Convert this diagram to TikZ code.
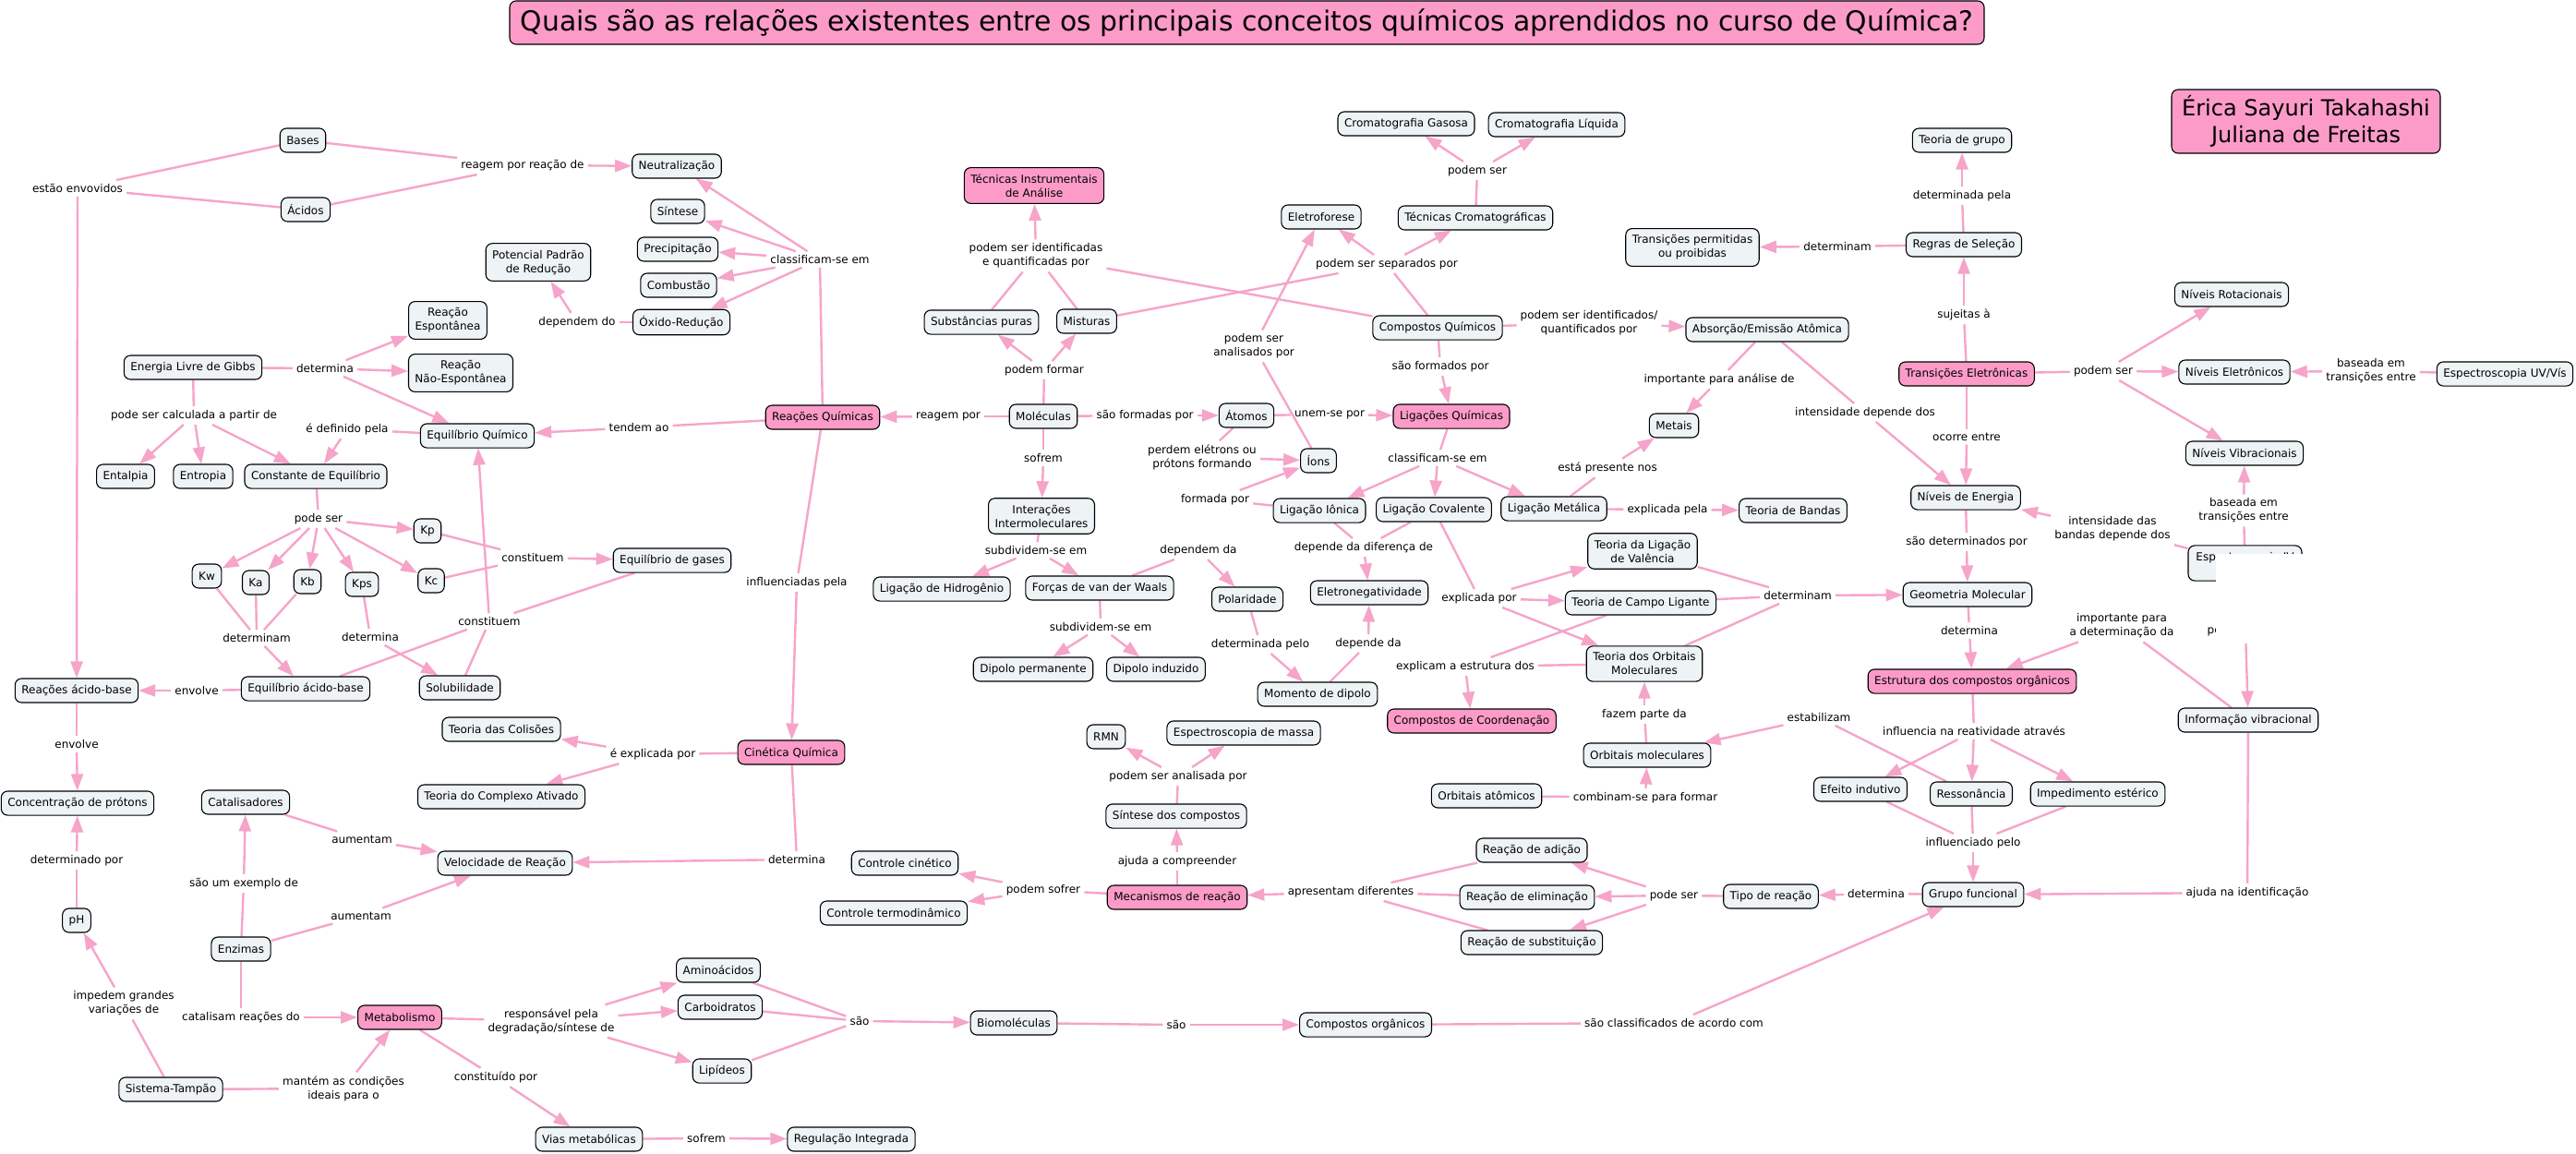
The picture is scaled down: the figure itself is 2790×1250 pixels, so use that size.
\documentclass[tikz,border=0pt]{standalone}
\usepackage{fontspec}
\setmainfont{DejaVu Sans}
\usetikzlibrary{arrows.meta,backgrounds}
\definecolor{cfill}{RGB}{238,243,245}
\definecolor{pfill}{RGB}{252,155,200}
\definecolor{lpink}{RGB}{246,164,202}
\tikzset{
 cpt/.style={draw=black, line width=1.1pt, rounded corners=7pt, fill=cfill, inner xsep=7pt, inner ysep=7pt, minimum height=26pt, align=center, font=\fontsize{12pt}{15pt}\selectfont},
 pk/.style={cpt, fill=pfill},
 lbl/.style={inner xsep=4pt, inner ysep=4pt, align=center, font=\fontsize{12pt}{15pt}\selectfont},
 ln/.style={draw=lpink, line width=2.4pt},
 ar/.style={ln, -{Triangle[length=18pt,width=13pt]}},
}
\begin{document}
\begin{tikzpicture}[x=1pt,y=-1pt]
\useasboundingbox (0,0) rectangle (2790,1250);
% ---------- title and authors
\node[pk, font=\fontsize{29.8pt}{32pt}\selectfont, minimum width=1597pt, minimum height=47pt, inner ysep=2pt, inner xsep=4pt] (title) at (1350.5,24.5) {Quais são as relações existentes entre os principais conceitos químicos aprendidos no curso de Química?};
\node[pk, font=\fontsize{24pt}{29pt}\selectfont, minimum width=291pt, minimum height=69pt, inner ysep=4pt] (autores) at (2497.5,131.5) {Érica Sayuri Takahashi\\Juliana de Freitas};
% ---------- concepts
\node[cpt] (bases) at (328,152) {Bases};
\node[cpt] (acidos) at (331,227) {Ácidos};
\node[cpt] (neutr) at (733,180) {Neutralização};
\node[cpt] (sintese) at (734,229) {Síntese};
\node[cpt] (precip) at (734,270) {Precipitação};
\node[cpt] (combust) at (735,309) {Combustão};
\node[cpt] (oxired) at (738,349) {Óxido-Redução};
\node[cpt] (potencial) at (583,284) {Potencial Padrão\\de Redução};
\node[cpt] (reacesp) at (485,347) {Reação\\Espontânea};
\node[cpt] (reacnesp) at (499,404) {Reação\\Não-Espontânea};
\node[cpt] (gibbs) at (209,398) {Energia Livre de Gibbs};
\node[cpt] (eqquim) at (517,472) {Equilíbrio Químico};
\node[cpt] (entalpia) at (136,516) {Entalpia};
\node[cpt] (entropia) at (220,516) {Entropia};
\node[cpt] (consteq) at (342,516) {Constante de Equilíbrio};
\node[cpt] (kp) at (463,575) {Kp};
\node[cpt] (kw) at (224,624) {Kw};
\node[cpt] (ka) at (277,631) {Ka};
\node[cpt] (kb) at (333,630) {Kb};
\node[cpt] (kps) at (392,633) {Kps};
\node[cpt] (kc) at (467,629) {Kc};
\node[cpt] (eqgases) at (728,607) {Equilíbrio de gases};
\node[cpt] (reacab) at (83,748) {Reações ácido-base};
\node[cpt] (eqab) at (331,746) {Equilíbrio ácido-base};
\node[cpt] (solub) at (498,745) {Solubilidade};
\node[cpt] (tcolis) at (543,790) {Teoria das Colisões};
\node[cpt] (tcomplexo) at (543,863) {Teoria do Complexo Ativado};
\node[cpt] (concprot) at (84,870) {Concentração de prótons};
\node[cpt] (catalis) at (266,869) {Catalisadores};
\node[cpt] (velreac) at (547,935) {Velocidade de Reação};
\node[cpt] (ph) at (83,997) {pH};
\node[cpt] (enzimas) at (261,1028) {Enzimas};
\node[pk] (metab) at (433,1102) {Metabolismo};
\node[cpt] (tampao) at (185,1180) {Sistema-Tampão};
\node[cpt] (vias) at (638,1234) {Vias metabólicas};
\node[cpt] (regint) at (922,1234) {Regulação Integrada};
\node[cpt] (aminoac) at (778,1051) {Aminoácidos};
\node[cpt] (carboid) at (780,1091) {Carboidratos};
\node[cpt] (lipid) at (782,1160) {Lipídeos};
\node[cpt] (biomol) at (1098,1108) {Biomoléculas};
\node[cpt] (comporg) at (1479,1110) {Compostos orgânicos};
\node[pk] (reacquim) at (891,452) {Reações Químicas};
\node[pk] (cinetica) at (857,815) {Cinética Química};
\node[cpt] (ctrlcin) at (980,935) {Controle cinético};
\node[cpt] (ctrlterm) at (968,989) {Controle termodinâmico};
\node[pk] (mecan) at (1275,972) {Mecanismos de reação};
\node[cpt] (sintcomp) at (1274,884) {Síntese dos compostos};
\node[cpt] (rmn) at (1198,798) {RMN};
\node[cpt] (espmassa) at (1347,794) {Espectroscopia de massa};
\node[pk] (tecinstr) at (1120,201) {Técnicas Instrumentais\\de Análise};
\node[cpt] (subst) at (1063,349) {Substâncias puras};
\node[cpt] (mist) at (1177,348) {Misturas};
\node[cpt] (molec) at (1130,451) {Moléculas};
\node[cpt] (atomos) at (1350,450) {Átomos};
\node[cpt] (ions) at (1428,499) {Íons};
\node[cpt] (interint) at (1128,559) {Interações\\Intermoleculares};
\node[cpt] (ligH) at (1020,638) {Ligação de Hidrogênio};
\node[cpt] (vdw) at (1191,637) {Forças de van der Waals};
\node[cpt] (polar) at (1351,649) {Polaridade};
\node[cpt] (dipperm) at (1119,725) {Dipolo permanente};
\node[cpt] (dipind) at (1252,725) {Dipolo induzido};
\node[cpt] (momdip) at (1427,752) {Momento de dipolo};
\node[cpt] (eletroneg) at (1483,642) {Eletronegatividade};
\node[cpt] (cromag) at (1523,134) {Cromatografia Gasosa};
\node[cpt] (cromal) at (1686,135) {Cromatografia Líquida};
\node[cpt] (eletrof) at (1431,235) {Eletroforese};
\node[cpt] (teccrom) at (1598,236) {Técnicas Cromatográficas};
\node[cpt] (compquim) at (1557,355) {Compostos Químicos};
\node[pk] (ligquim) at (1572,451) {Ligações Químicas};
\node[cpt] (ligion) at (1429,553) {Ligação Iônica};
\node[cpt] (ligcov) at (1553,552) {Ligação Covalente};
\node[cpt] (ligmet) at (1683,551) {Ligação Metálica};
\node[cpt] (tbandas) at (1942,553) {Teoria de Bandas};
\node[cpt] (metais) at (1813,461) {Metais};
\node[cpt] (absem) at (1914,357) {Absorção/Emissão Atômica};
\node[cpt] (tlv) at (1779,597) {Teoria da Ligação\\de Valência};
\node[cpt] (tcl) at (1777,653) {Teoria de Campo Ligante};
\node[cpt] (tom) at (1781,719) {Teoria dos Orbitais\\Moleculares};
\node[pk] (compcoord) at (1594,781) {Compostos de Coordenação};
\node[cpt] (orbmol) at (1784,818) {Orbitais moleculares};
\node[cpt] (orbat) at (1610,862) {Orbitais atômicos};
\node[cpt] (radic) at (1659,921) {Reação de adição};
\node[cpt] (relim) at (1654,972) {Reação de eliminação};
\node[cpt] (rsubst) at (1659,1021) {Reação de substituição};
\node[cpt] (tiporeac) at (1918,971) {Tipo de reação};
\node[cpt] (grupofunc) at (2137,969) {Grupo funcional};
\node[cpt] (efind) at (2015,855) {Efeito indutivo};
\node[cpt] (resson) at (2135,860) {Ressonância};
\node[cpt] (impest) at (2272,860) {Impedimento estérico};
\node[pk] (estrut) at (2136,738) {Estrutura dos compostos orgânicos};
\node[cpt] (geomol) at (2131,644) {Geometria Molecular};
\node[cpt] (nivener) at (2129,539) {Níveis de Energia};
\node[pk] (transel) at (2130,405) {Transições Eletrônicas};
\node[cpt] (regsel) at (2127,265) {Regras de Seleção};
\node[cpt] (tgrupo) at (2125,152) {Teoria de grupo};
\node[cpt] (transperm) at (1833,268) {Transições permitidas\\ou proibidas};
\node[cpt] (nivrot) at (2417,319) {Níveis Rotacionais};
\node[cpt] (niveletr) at (2420,403) {Níveis Eletrônicos};
\node[cpt] (nivvib) at (2431,491) {Níveis Vibracionais};
\node[cpt] (espuv) at (2713,405) {Espectroscopia UV/Vís};
\node[cpt, minimum width=123pt, minimum height=38pt] (espiv) at (2431.5,610) {Espectroscopia IV\\\phantom{I}};
\node[cpt] (infovib) at (2435,780) {Informação vibracional};
% ---------- linking phrases
\node[lbl] (Lestao) at (84,204) {estão envovidos};
\node[lbl] (Lreagemreac) at (566,179) {reagem por reação de};
\node[lbl] (Lclassif1) at (888,281) {classificam-se em};
\node[lbl] (Ldependemdo) at (625,349) {dependem do};
\node[lbl] (Ldetermina1) at (352,399) {determina};
\node[lbl] (Lcalc) at (210,450) {pode ser calculada a partir de};
\node[lbl] (Ldefinido) at (376,465) {é definido pela};
\node[lbl] (Ltendem) at (692,463) {tendem ao};
\node[lbl] (Lpodeser1) at (345,562) {pode ser};
\node[lbl] (Lconstituem1) at (577,604) {constituem};
\node[lbl] (Ldeterminam1) at (278,691) {determinam};
\node[lbl] (Ldetermina2) at (401,690) {determina};
\node[lbl] (Lconstituem2) at (530,673) {constituem};
\node[lbl] (Lenvolve1) at (213,748) {envolve};
\node[lbl] (Lenvolve2) at (83,806) {envolve};
\node[lbl] (Lexplicada) at (707,817) {é explicada por};
\node[lbl] (Linfluenc) at (863,631) {influenciadas pela};
\node[lbl] (Ldetpor) at (83,932) {determinado por};
\node[lbl] (Lexemplo) at (264,957) {são um exemplo de};
\node[lbl] (Laumentam1) at (392,909) {aumentam};
\node[lbl] (Laumentam2) at (391,992) {aumentam};
\node[lbl] (Limpedem) at (134,1087) {impedem grandes\\variações de};
\node[lbl] (Lcatalisam) at (261,1102) {catalisam reações do};
\node[lbl] (Lrespons) at (597,1106) {responsável pela\\degradação/síntese de};
\node[lbl] (Lmantem) at (372,1179) {mantém as condições\\ideais para o};
\node[lbl] (Lconstit) at (537,1167) {constituído por};
\node[lbl] (Lsofrem2) at (765,1233) {sofrem};
\node[lbl] (Lsao1) at (931,1106) {são};
\node[lbl] (Lsao2) at (1274,1110) {são};
\node[lbl] (Lclassif3) at (1813,1108) {são classificados de acordo com};
\node[lbl] (Ldetermina4) at (863,931) {determina};
\node[lbl] (Lpodemsofrer) at (1130,964) {podem sofrer};
\node[lbl] (Lajuda) at (1275,933) {ajuda a compreender};
\node[lbl] (Lanalisada) at (1276,841) {podem ser analisada por};
\node[lbl] (Lapresentam) at (1463,966) {apresentam diferentes};
\node[lbl] (Lpodeser3) at (1813,970) {pode ser};
\node[lbl] (Ldetermina5) at (2032,968) {determina};
\node[lbl] (Lreagempor) at (1027,451) {reagem por};
\node[lbl] (Lformadas) at (1240,450) {são formadas por};
\node[lbl] (Lsofrem) at (1130,496) {sofrem};
\node[lbl] (Lpodemformar) at (1131,401) {podem formar};
\node[lbl] (Lidentif) at (1122,277) {podem ser identificadas\\e quantificadas por};
\node[lbl] (Lseparados) at (1502,286) {podem ser separados por};
\node[lbl] (Lpodeser2) at (1600,185) {podem ser};
\node[lbl] (Lanalisados) at (1358,375) {podem ser\\analisados por};
\node[lbl] (Lidentif2) at (1721,350) {podem ser identificados/\\quantificados por};
\node[lbl] (Lformados) at (1560,397) {são formados por};
\node[lbl] (Limportante) at (1862,411) {importante para análise de};
\node[lbl] (Lintens) at (2020,447) {intensidade depende dos};
\node[lbl] (Lunem) at (1440,449) {unem-se por};
\node[lbl] (Lperdem) at (1302,495) {perdem elétrons ou\\prótons formando};
\node[lbl] (Lformada) at (1316,541) {formada por};
\node[lbl] (Lsubdiv1) at (1122,596) {subdividem-se em};
\node[lbl] (Ldependemda) at (1298,596) {dependem da};
\node[lbl] (Lsubdiv2) at (1192,679) {subdividem-se em};
\node[lbl] (Ldetpelo) at (1365,698) {determinada pelo};
\node[lbl] (Ldependeda) at (1482,697) {depende da};
\node[lbl] (Lclassif2) at (1557,496) {classificam-se em};
\node[lbl] (Lpresente) at (1741,507) {está presente nos};
\node[lbl] (Lexplpela) at (1806,552) {explicada pela};
\node[lbl] (Ldifer) at (1477,593) {depende da diferença de};
\node[lbl] (Lexplpor) at (1602,648) {explicada por};
\node[lbl] (Ldeterminam2) at (1947,645) {determinam};
\node[lbl] (Lexplicam) at (1587,722) {explicam a estrutura dos};
\node[lbl] (Lfazem) at (1781,774) {fazem parte da};
\node[lbl] (Lestab) at (1970,777) {estabilizam};
\node[lbl] (Lcombinam) at (1782,864) {combinam-se para formar};
\node[lbl] (Linfluencia) at (2138,792) {influencia na reatividade através};
\node[lbl] (Linfluenciado) at (2137,913) {influenciado pelo};
\node[lbl] (Lajudaid) at (2434,967) {ajuda na identificação};
\node[lbl] (Ldetermina6) at (2133,683) {determina};
\node[lbl] (Limpdet) at (2298,678) {importante para\\a determinação da};
\node[lbl] (Lperm) at (2432,683) {permite obter};
\node[lbl] (Lsaodet) at (2130,587) {são determinados por};
\node[lbl] (Lintbandas) at (2288,573) {intensidade das\\bandas depende dos};
\node[lbl] (Lbaseada2) at (2430,553) {baseada em\\transições entre};
\node[lbl] (Locorre) at (2130,473) {ocorre entre};
\node[lbl] (Lsujeitas) at (2127,341) {sujeitas à};
\node[lbl] (Ldetpela) at (2125,212) {determinada pela};
\node[lbl] (Ldeterminam3) at (1990,267) {determinam};
\node[lbl] (Lpodeser4) at (2278,402) {podem ser};
\node[lbl] (Lbaseada1) at (2568,402) {baseada em\\transições entre};
% ---------- connectors
\begin{scope}[on background layer]
\fill[white] (0,0) rectangle (2790,1250);
\draw[ln] (bases) -- (Lestao);
\draw[ln] (acidos) -- (Lestao);
\draw[ar] (Lestao) -- (reacab);
\draw[ln] (bases) -- (Lreagemreac);
\draw[ln] (acidos) -- (Lreagemreac);
\draw[ar] (Lreagemreac) -- (neutr);
\draw[ln] (reacquim) -- (Lclassif1);
\foreach \t in {neutr,sintese,precip,combust,oxired} \draw[ar] (Lclassif1) -- (\t);
\draw[ln] (oxired) -- (Ldependemdo);
\draw[ar] (Ldependemdo) -- (potencial);
\draw[ln] (gibbs) -- (Ldetermina1);
\foreach \t in {reacesp,reacnesp,eqquim} \draw[ar] (Ldetermina1) -- (\t);
\draw[ln] (gibbs) -- (Lcalc);
\foreach \t in {entalpia,entropia,consteq} \draw[ar] (Lcalc) -- (\t);
\draw[ln] (eqquim) -- (Ldefinido);
\draw[ar] (Ldefinido) -- (consteq);
\draw[ln] (reacquim) -- (Ltendem);
\draw[ar] (Ltendem) -- (eqquim);
\draw[ln] (consteq) -- (Lpodeser1);
\foreach \t in {kp,kw,ka,kb,kps,kc} \draw[ar] (Lpodeser1) -- (\t);
\draw[ln] (kp) -- (Lconstituem1);
\draw[ln] (kc) -- (Lconstituem1);
\draw[ar] (Lconstituem1) -- (eqgases);
\foreach \t in {kw,ka,kb} \draw[ln] (\t) -- (Ldeterminam1);
\draw[ar] (Ldeterminam1) -- (eqab);
\draw[ln] (kps) -- (Ldetermina2);
\draw[ar] (Ldetermina2) -- (solub);
\foreach \t in {eqgases,eqab,solub} \draw[ln] (\t) -- (Lconstituem2);
\draw[ar] (Lconstituem2) -- (eqquim);
\draw[ln] (eqab) -- (Lenvolve1);
\draw[ar] (Lenvolve1) -- (reacab);
\draw[ln] (reacab) -- (Lenvolve2);
\draw[ar] (Lenvolve2) -- (concprot);
\draw[ln] (ph) -- (Ldetpor);
\draw[ar] (Ldetpor) -- (concprot);
\draw[ln] (tampao) -- (Limpedem);
\draw[ar] (Limpedem) -- (ph);
\draw[ln] (tampao) -- (Lmantem);
\draw[ar] (Lmantem) -- (metab);
\draw[ln] (enzimas) -- (Lexemplo);
\draw[ar] (Lexemplo) -- (catalis);
\draw[ln] (catalis) -- (Laumentam1);
\draw[ar] (Laumentam1) -- (velreac);
\draw[ln] (enzimas) -- (Laumentam2);
\draw[ar] (Laumentam2) -- (velreac);
\draw[ln] (enzimas) -- (Lcatalisam);
\draw[ar] (Lcatalisam) -- (metab);
\draw[ln] (metab) -- (Lrespons);
\foreach \t in {aminoac,carboid,lipid} \draw[ar] (Lrespons) -- (\t);
\draw[ln] (metab) -- (Lconstit);
\draw[ar] (Lconstit) -- (vias);
\draw[ln] (vias) -- (Lsofrem2);
\draw[ar] (Lsofrem2) -- (regint);
\foreach \t in {aminoac,carboid,lipid} \draw[ln] (\t) -- (Lsao1);
\draw[ar] (Lsao1) -- (biomol);
\draw[ln] (biomol) -- (Lsao2);
\draw[ar] (Lsao2) -- (comporg);
\draw[ln] (comporg) -- (Lclassif3);
\draw[ar] (Lclassif3) -- (grupofunc);
\draw[ln] (grupofunc) -- (Ldetermina5);
\draw[ar] (Ldetermina5) -- (tiporeac);
\draw[ln] (tiporeac) -- (Lpodeser3);
\foreach \t in {radic,relim,rsubst} \draw[ar] (Lpodeser3) -- (\t);
\foreach \t in {radic,relim,rsubst} \draw[ln] (\t) -- (Lapresentam);
\draw[ar] (Lapresentam) -- (mecan);
\draw[ln] (mecan) -- (Lpodemsofrer);
\foreach \t in {ctrlcin,ctrlterm} \draw[ar] (Lpodemsofrer) -- (\t);
\draw[ln] (mecan) -- (Lajuda);
\draw[ar] (Lajuda) -- (sintcomp);
\draw[ln] (sintcomp) -- (Lanalisada);
\foreach \t in {rmn,espmassa} \draw[ar] (Lanalisada) -- (\t);
\draw[ln] (reacquim) -- (Linfluenc);
\draw[ar] (Linfluenc) -- (cinetica);
\draw[ln] (cinetica) -- (Lexplicada);
\foreach \t in {tcolis,tcomplexo} \draw[ar] (Lexplicada) -- (\t);
\draw[ln] (cinetica) -- (Ldetermina4);
\draw[ar] (Ldetermina4) -- (velreac);
\draw[ln] (molec) -- (Lreagempor);
\draw[ar] (Lreagempor) -- (reacquim);
\draw[ln] (molec) -- (Lpodemformar);
\foreach \t in {subst,mist} \draw[ar] (Lpodemformar) -- (\t);
\foreach \t in {subst,mist,compquim} \draw[ln] (\t) -- (Lidentif);
\draw[ar] (Lidentif) -- (tecinstr);
\foreach \t in {mist,compquim} \draw[ln] (\t) -- (Lseparados);
\foreach \t in {eletrof,teccrom} \draw[ar] (Lseparados) -- (\t);
\draw[ln] (teccrom) -- (Lpodeser2);
\foreach \t in {cromag,cromal} \draw[ar] (Lpodeser2) -- (\t);
\draw[ln] (compquim) -- (Lidentif2);
\draw[ar] (Lidentif2) -- (absem);
\draw[ln] (absem) -- (Limportante);
\draw[ar] (Limportante) -- (metais);
\draw[ln] (absem) -- (Lintens);
\draw[ar] (Lintens) -- (nivener);
\draw[ln] (compquim) -- (Lformados);
\draw[ar] (Lformados) -- (ligquim);
\draw[ln] (molec) -- (Lformadas);
\draw[ar] (Lformadas) -- (atomos);
\draw[ln] (molec) -- (Lsofrem);
\draw[ar] (Lsofrem) -- (interint);
\draw[ln] (atomos) -- (Lunem);
\draw[ar] (Lunem) -- (ligquim);
\draw[ln] (atomos) -- (Lperdem);
\draw[ar] (Lperdem) -- (ions);
\draw[ln] (ligion) -- (Lformada);
\draw[ar] (Lformada) -- (ions);
\draw[ln] (ions) -- (Lanalisados);
\draw[ar] (Lanalisados) -- (eletrof);
\draw[ln] (ligquim) -- (Lclassif2);
\foreach \t in {ligion,ligcov,ligmet} \draw[ar] (Lclassif2) -- (\t);
\draw[ln] (ligmet) -- (Lpresente);
\draw[ar] (Lpresente) -- (metais);
\draw[ln] (ligmet) -- (Lexplpela);
\draw[ar] (Lexplpela) -- (tbandas);
\foreach \t in {ligion,ligcov} \draw[ln] (\t) -- (Ldifer);
\draw[ar] (Ldifer) -- (eletroneg);
\draw[ln] (ligcov) -- (Lexplpor);
\foreach \t in {tlv,tcl,tom} \draw[ar] (Lexplpor) -- (\t);
\foreach \t in {tlv,tcl,tom} \draw[ln] (\t) -- (Ldeterminam2);
\draw[ar] (Ldeterminam2) -- (geomol);
\foreach \t in {tcl,tom} \draw[ln] (\t) -- (Lexplicam);
\draw[ar] (Lexplicam) -- (compcoord);
\draw[ln] (orbmol) -- (Lfazem);
\draw[ar] (Lfazem) -- (tom);
\draw[ln] (orbat) -- (Lcombinam);
\draw[ar] (Lcombinam) -- (orbmol);
\draw[ln] (resson) -- (Lestab);
\draw[ar] (Lestab) -- (orbmol);
\draw[ln] (estrut) -- (Linfluencia);
\foreach \t in {efind,resson,impest} \draw[ar] (Linfluencia) -- (\t);
\foreach \t in {efind,resson,impest} \draw[ln] (\t) -- (Linfluenciado);
\draw[ar] (Linfluenciado) -- (grupofunc);
\draw[ln] (geomol) -- (Ldetermina6);
\draw[ar] (Ldetermina6) -- (estrut);
\draw[ln] (infovib) -- (Limpdet);
\draw[ar] (Limpdet) -- (estrut);
\draw[ln] (espiv) -- (Lperm);
\draw[ar] (Lperm) -- (infovib);
\draw[ln] (infovib) -- (Lajudaid);
\draw[ar] (Lajudaid) -- (grupofunc);
\draw[ln] (espiv) -- (Lbaseada2);
\draw[ar] (Lbaseada2) -- (nivvib);
\draw[ln] (espiv) -- (Lintbandas);
\draw[ar] (Lintbandas) -- (nivener);
\draw[ln] (nivener) -- (Lsaodet);
\draw[ar] (Lsaodet) -- (geomol);
\draw[ln] (transel) -- (Locorre);
\draw[ar] (Locorre) -- (nivener);
\draw[ln] (transel) -- (Lsujeitas);
\draw[ar] (Lsujeitas) -- (regsel);
\draw[ln] (regsel) -- (Ldetpela);
\draw[ar] (Ldetpela) -- (tgrupo);
\draw[ln] (regsel) -- (Ldeterminam3);
\draw[ar] (Ldeterminam3) -- (transperm);
\draw[ln] (transel) -- (Lpodeser4);
\foreach \t in {nivrot,niveletr,nivvib} \draw[ar] (Lpodeser4) -- (\t);
\draw[ln] (espuv) -- (Lbaseada1);
\draw[ar] (Lbaseada1) -- (niveletr);
\draw[ln] (interint) -- (Lsubdiv1);
\foreach \t in {ligH,vdw} \draw[ar] (Lsubdiv1) -- (\t);
\draw[ln] (vdw) -- (Lsubdiv2);
\foreach \t in {dipperm,dipind} \draw[ar] (Lsubdiv2) -- (\t);
\draw[ln] (vdw) -- (Ldependemda);
\draw[ar] (Ldependemda) -- (polar);
\draw[ln] (polar) -- (Ldetpelo);
\draw[ar] (Ldetpelo) -- (momdip);
\draw[ln] (momdip) -- (Ldependeda);
\draw[ar] (Ldependeda) -- (eletroneg);
\end{scope}
% ---------- blank patch present in the reference
\fill[white] (2400,600) rectangle (2570,697);
\end{tikzpicture}
\end{document}
